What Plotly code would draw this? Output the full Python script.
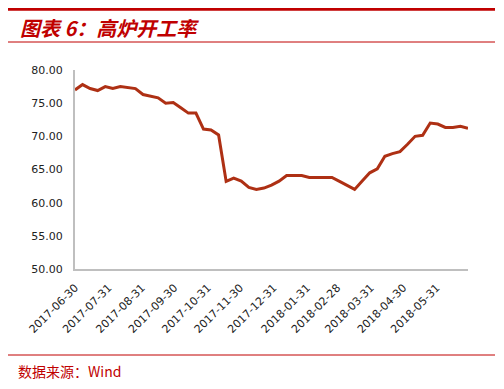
import plotly.graph_objects as go
import pandas as pd

start_date = "2017-06-30"
n_weeks = 53
dates = pd.date_range(start_date, periods=n_weeks, freq="7D")

values = [77.0, 77.8, 77.2, 76.9, 77.5, 77.2, 77.5, 77.4, 77.2, 76.3,
          76.0, 75.8, 75.0, 75.1, 74.3, 73.5, 73.5, 71.1, 70.95, 70.2,
          63.2, 63.7, 63.25, 62.3, 62.0, 62.2, 62.65, 63.25, 64.1, 64.1,
          64.1, 63.8, 63.8, 63.8, 63.8, 63.2, 62.6, 62.0, 63.25, 64.5,
          65.1, 67.0, 67.4, 67.7, 68.8, 70.0, 70.15, 72.0, 71.85, 71.35,
          71.35, 71.5, 71.2]

tick_dates = ["2017-06-30", "2017-07-31", "2017-08-31", "2017-09-30", "2017-10-31",
              "2017-11-30", "2017-12-31", "2018-01-31", "2018-02-28", "2018-03-31",
              "2018-04-30", "2018-05-31"]

title_text = "图表 6：高炉开工率"
source_text = "数据来源：Wind"

# page body has an 8px margin; work in reference pixel coords and offset
OFF = 8
W, H = 504 - OFF, 389 - OFF
L, R, T, B = 75 - OFF, 468 - OFF, 70 - OFF, 269 - OFF
pw, ph = R - L, B - T

def px_x(x):
    return (x - OFF - L) / pw

def px_y(y):
    return (B - (y - OFF)) / ph

fig = go.Figure()
fig.add_trace(go.Scatter(x=dates, y=values, mode="lines",
                         line=dict(color="#AE3014", width=3),
                         hoverinfo="skip", showlegend=False))

fig.update_layout(
    width=W, height=H,
    margin=dict(l=L, r=W - R, t=T, b=H - B, pad=0, autoexpand=False),
    paper_bgcolor="white", plot_bgcolor="white",
    font=dict(family="DejaVu Sans", size=11, color="#222222"),
    xaxis=dict(type="date", range=[dates[0], dates[-1]],
               tickvals=tick_dates, ticktext=tick_dates, tickangle=-45,
               showgrid=False, zeroline=False,
               showline=True, linecolor="#BFBFBF", linewidth=2,
               ticks="outside", ticklen=6, tickcolor="rgba(0,0,0,0)",
               tickfont=dict(family="DejaVu Sans", size=11, color="#222222")),
    yaxis=dict(range=[50, 80], dtick=5, tick0=50, tickformat=".2f",
               showgrid=False, zeroline=False,
               showline=True, linecolor="#BFBFBF", linewidth=2,
               ticks="outside", ticklen=8, tickcolor="rgba(0,0,0,0)",
               tickfont=dict(family="DejaVu Sans", size=11, color="#222222")),
    shapes=[
        dict(type="line", xref="paper", yref="paper", x0=px_x(7), x1=px_x(495),
             y0=px_y(9.3), y1=px_y(9.3), line=dict(color="#C00000", width=3)),
        dict(type="line", xref="paper", yref="paper", x0=px_x(7), x1=px_x(495),
             y0=px_y(42), y1=px_y(42), line=dict(color="#C00000", width=1)),
        dict(type="line", xref="paper", yref="paper", x0=px_x(7), x1=px_x(495),
             y0=px_y(355), y1=px_y(355), line=dict(color="#C00000", width=1)),
    ],
    annotations=[
        dict(text="<b><i>" + title_text + "</i></b>", xref="paper", yref="paper",
             x=px_x(18), y=px_y(27), xanchor="left", yanchor="middle", showarrow=False,
             font=dict(family="Noto Sans CJK SC", size=20, color="#C00000")),
        dict(text=source_text, xref="paper", yref="paper",
             x=px_x(16), y=px_y(371), xanchor="left", yanchor="middle", showarrow=False,
             font=dict(family="Noto Sans CJK SC", size=14, color="#C00000")),
    ],
)

fig.write_html("out.html")
